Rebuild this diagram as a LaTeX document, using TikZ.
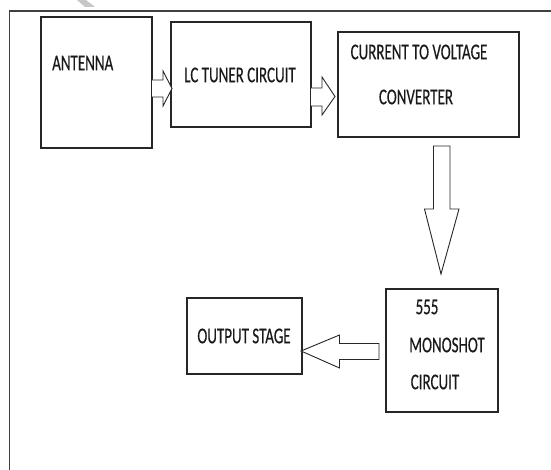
\documentclass[tikz,border=0pt]{standalone}
\usepackage{fontspec}
\setmainfont{Carlito}
\newfontfamily\lblfont{Carlito}[FakeBold=0.5]
\begin{document}
\begin{tikzpicture}[x=1pt,y=-1pt,
  blk/.style={draw=black!85,line width=1.3pt},
  harrow/.style={draw=black!85,line width=0.9pt,line join=miter,fill=white},
  lbl/.style={inner sep=0pt,font=\lblfont\fontsize{15}{15}\selectfont,text=black!90},
  frameline/.style={draw=black!75,line width=1.6pt}]
\useasboundingbox (0,0) rectangle (551,470);
% watermark trace
\fill[black!22] (77,0) -- (86,0) -- (95,7) -- (85,7) -- cycle;
% outer frame
\coordinate (fTL) at (9.5,11);
\coordinate (fTR) at (551,11);
\coordinate (fBL) at (9.5,470);
\draw[frameline] (fBL) -- (fTL) -- (fTR);
% boxes
\draw[blk] (41,17) rectangle (152,148);
\node[lbl,anchor=west] (ant) at (52,63) {\scalebox{1}[1.5]{ANTENNA}};
\draw[blk] (171,22) rectangle (311,127);
\node[lbl] (lc) at (240,75) {\scalebox{1}[1.5]{LC TUNER CIRCUIT}};
\draw[blk] (338,32) rectangle (519,137);
\node[lbl] (cv1) at (419,52) {\scalebox{1}[1.5]{CURRENT TO VOLTAGE}};
\node[lbl] (cv2) at (416,97) {\scalebox{1}[1.5]{CONVERTER}};
\draw[blk] (386,289) rectangle (498,412);
\node[lbl] (m1) at (427,307) {\scalebox{1}[1.5]{555}};
\node[lbl] (m2) at (447,345) {\scalebox{1}[1.5]{MONOSHOT}};
\node[lbl] (m3) at (435,382) {\scalebox{1}[1.5]{CIRCUIT}};
\draw[blk] (187,298) rectangle (302,374);
\node[lbl] (out) at (244,336) {\scalebox{1}[1.5]{OUTPUT STAGE}};
% block arrows
\draw[harrow] (152,80) -- (163,80) -- (163,71) -- (172,88.5) -- (163,106) -- (163,97) -- (152,97);
\draw[harrow] (311,88) -- (322,88) -- (322,77) -- (335,96.5) -- (322,115) -- (322,106) -- (311,106);
\draw[harrow] (433.5,146) -- (450,146) -- (450,209) -- (459,209) -- (441,274) -- (424.5,209) -- (433.5,209) -- cycle;
\draw[harrow] (379,343.5) -- (379,359.5) -- (339.5,359.5) -- (339.5,368) -- (301,351) -- (339.5,335) -- (339.5,343.5) -- cycle;
\end{tikzpicture}
\end{document}
